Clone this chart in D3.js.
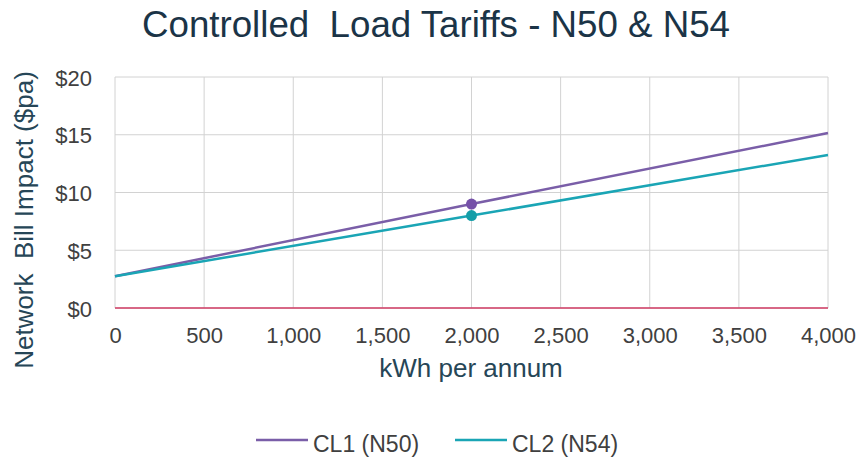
<!DOCTYPE html>
<html><head><meta charset="utf-8">
<script src="https://cdn.jsdelivr.net/npm/d3@7"></script>
<style>body{margin:0;background:#fff;}svg{display:block;}text{white-space:pre;}</style>
</head><body>
<svg id="c" width="861" height="461"></svg>
<script>
const kwh = [0, 2000, 4000];
const cl1 = [2.75, 9.0, 15.15];
const cl2 = [2.75, 8.0, 13.25];
const markerKwh = 2000;
const xTicks = [0, 500, 1000, 1500, 2000, 2500, 3000, 3500, 4000];
const yTicks = [0, 5, 10, 15, 20];
const seriesNames = ["CL1 (N50)", "CL2 (N54)"];
const colors = ["#7a5ea8", "#1aa5b5"];
const markerColors = ["#7550a8", "#149ea8"];

const svg = d3.select("#c");
const font = "'Liberation Sans', Arial, sans-serif";
const x = d3.scaleLinear().domain([0, 4000]).range([115, 828]);
const y = d3.scaleLinear().domain([0, 20]).range([308, 77]);

svg.append("text").attr("x", 436).attr("y", 37).attr("text-anchor", "middle")
  .attr("font-family", font).attr("font-size", 36).attr("fill", "#1b3447")
  .attr("textLength", 588).attr("lengthAdjust", "spacingAndGlyphs")
  .text("Controlled  Load Tariffs - N50 & N54");

const g = svg.append("g");
g.selectAll(".vg").data(xTicks).join("line")
  .attr("x1", d => x(d)).attr("x2", d => x(d)).attr("y1", y(20)).attr("y2", y(0))
  .attr("stroke", "#d2d2d2").attr("stroke-width", 1);
g.selectAll(".hg").data(yTicks).join("line")
  .attr("x1", x(0)).attr("x2", x(4000)).attr("y1", d => y(d)).attr("y2", d => y(d))
  .attr("stroke", "#d2d2d2").attr("stroke-width", 1);

// zero line
g.append("line").attr("x1", x(0)).attr("x2", x(4000)).attr("y1", y(0)).attr("y2", y(0))
  .attr("stroke", "#d23c64").attr("stroke-width", 1.5);

const xAxis = d3.axisBottom(x).tickValues(xTicks).tickSize(0).tickPadding(0)
  .tickFormat(d3.format(","));
const ax = svg.append("g").attr("transform", `translate(0,${y(0)})`).call(xAxis);
ax.select(".domain").remove();
ax.selectAll("text").attr("font-family", font).attr("font-size", 22).attr("fill", "#404040")
  .attr("dy", null).attr("y", 35);

const yAxis = d3.axisLeft(y).tickValues(yTicks).tickSize(0).tickPadding(23)
  .tickFormat(d => "$" + d);
const ay = svg.append("g").attr("transform", `translate(${x(0)},0)`).call(yAxis);
ay.select(".domain").remove();
ay.selectAll("text").attr("font-family", font).attr("font-size", 22).attr("fill", "#404040")
  .attr("dy", null).attr("y", 8);

svg.append("text").attr("x", 471).attr("y", 377).attr("text-anchor", "middle")
  .attr("font-family", font).attr("font-size", 26).attr("fill", "#264657")
  .text("kWh per annum");
svg.append("text").attr("transform", "translate(33,220) rotate(-90)").attr("text-anchor", "middle")
  .attr("font-family", font).attr("font-size", 26).attr("fill", "#264657")
  .text("Network  Bill Impact ($pa)");

const line = d3.line().x((d, i) => x(kwh[i])).y(d => y(d));
[cl1, cl2].forEach((s, k) => {
  g.append("path").datum(s).attr("d", line).attr("fill", "none")
    .attr("stroke", colors[k]).attr("stroke-width", 2.5);
});
[cl1, cl2].forEach((s, k) => {
  const i = kwh.indexOf(markerKwh);
  g.append("circle").attr("cx", x(markerKwh)).attr("cy", y(s[i])).attr("r", 5.5)
    .attr("fill", markerColors[k]);
});

const legX = [256, 455];
seriesNames.forEach((n, k) => {
  svg.append("line").attr("x1", legX[k]).attr("x2", legX[k] + 52).attr("y1", 440).attr("y2", 440)
    .attr("stroke", colors[k]).attr("stroke-width", 2.5);
  svg.append("text").attr("x", legX[k] + 57).attr("y", 452)
    .attr("font-family", font).attr("font-size", 23).attr("fill", "#404040").text(n);
});
</script>
</body></html>
